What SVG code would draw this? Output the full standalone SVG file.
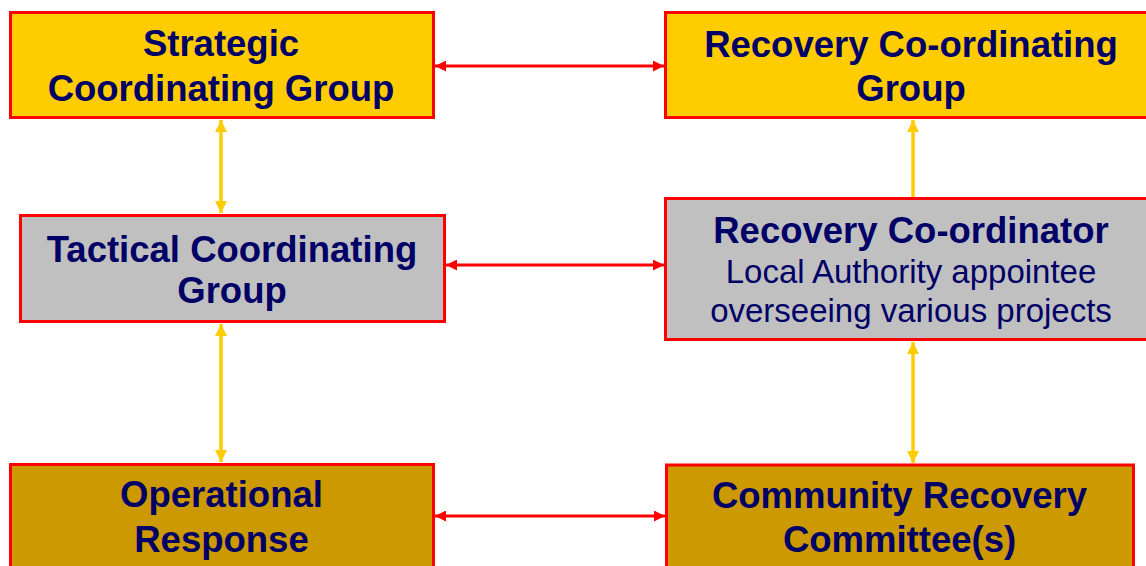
<svg xmlns="http://www.w3.org/2000/svg" width="1146" height="566" viewBox="0 0 1146 566">
  <style>
    .box { stroke: #ff0000; stroke-width: 3; }
    .gold { fill: #ffcc00; }
    .grey { fill: #c0c0c0; }
    .ochre { fill: #cc9900; }
    .t { font-family: "Liberation Sans", Arial, sans-serif; fill: #000066; text-anchor: middle; }
    .b { font-weight: bold; font-size: 36.5px; }
    .r { font-size: 33px; }
    .red { stroke: #ff0000; stroke-width: 3; fill: none; }
    .yel { stroke: #ffcc00; stroke-width: 3.5; fill: none; }
  </style>
  <defs>
    <marker id="ahRed" viewBox="0 0 10 10" refX="10" refY="5" markerUnits="userSpaceOnUse" markerWidth="12" markerHeight="11" orient="auto-start-reverse">
      <path d="M0,0 L10,5 L0,10 z" fill="#ff0000"/>
    </marker>
    <marker id="ahYel" viewBox="0 0 10 10" refX="10" refY="5" markerUnits="userSpaceOnUse" markerWidth="12" markerHeight="12" orient="auto-start-reverse">
      <path d="M0,0 L10,5 L0,10 z" fill="#ffcc00"/>
    </marker>
  </defs>

  <g id="connectors">
    <line class="red" x1="435" y1="66" x2="664" y2="66" marker-start="url(#ahRed)" marker-end="url(#ahRed)"/>
    <line class="red" x1="446" y1="265" x2="664" y2="265" marker-start="url(#ahRed)" marker-end="url(#ahRed)"/>
    <line class="red" x1="435" y1="516" x2="665" y2="516" marker-start="url(#ahRed)" marker-end="url(#ahRed)"/>
    <line class="yel" x1="221" y1="120" x2="221" y2="213" marker-start="url(#ahYel)" marker-end="url(#ahYel)"/>
    <line class="yel" x1="221" y1="324" x2="221" y2="462" marker-start="url(#ahYel)" marker-end="url(#ahYel)"/>
    <line class="yel" x1="913" y1="197" x2="913" y2="120" marker-end="url(#ahYel)"/>
    <line class="yel" x1="913" y1="342" x2="913" y2="463" marker-start="url(#ahYel)" marker-end="url(#ahYel)"/>
  </g>

  <g id="strategic">
    <rect class="box gold" x="10.5" y="12.5" width="423" height="105"/>
    <text class="t b" x="221" y="56">Strategic</text>
    <text class="t b" x="221" y="101">Coordinating Group</text>
  </g>

  <g id="recovery-group">
    <rect class="box gold" x="665.5" y="12.5" width="490" height="105"/>
    <text class="t b" x="911" y="57">Recovery Co-ordinating</text>
    <text class="t b" x="911" y="101">Group</text>
  </g>

  <g id="tactical">
    <rect class="box grey" x="20.5" y="215.5" width="424" height="106"/>
    <text class="t b" x="232" y="261.5">Tactical Coordinating</text>
    <text class="t b" x="232" y="303">Group</text>
  </g>

  <g id="recovery-coordinator">
    <rect class="box grey" x="665.5" y="198.5" width="490" height="141"/>
    <text class="t b" x="911" y="243">Recovery Co-ordinator</text>
    <text class="t r" x="911" y="283">Local Authority appointee</text>
    <text class="t r" x="911" y="322">overseeing various projects</text>
  </g>

  <g id="operational">
    <rect class="box ochre" x="10.5" y="464.5" width="423" height="120"/>
    <text class="t b" x="221.5" y="507">Operational</text>
    <text class="t b" x="221.5" y="552">Response</text>
  </g>

  <g id="community">
    <rect class="box ochre" x="666.5" y="465" width="467" height="120"/>
    <text class="t b" x="899.5" y="508">Community Recovery</text>
    <text class="t b" x="899.5" y="552">Committee(s)</text>
  </g>
</svg>
